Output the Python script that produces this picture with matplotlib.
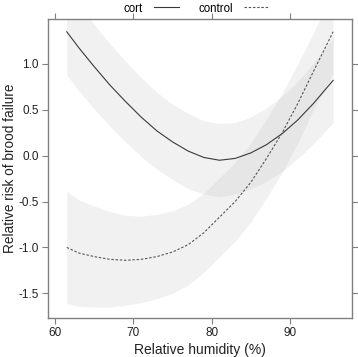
import numpy as np
import matplotlib
matplotlib.use('Agg')
import matplotlib.pyplot as plt

plt.rcParams['font.family'] = ['Liberation Sans', 'DejaVu Sans']

humidity = [61.5, 63, 65, 67, 69, 71, 73, 75, 77, 79, 81, 83, 85, 87, 89, 91, 93, 95.5]

# cort group: fitted risk and confidence band
cort_fit = [1.35, 1.18, 0.97, 0.77, 0.59, 0.42, 0.27, 0.15, 0.05, -0.02, -0.05, -0.03, 0.03, 0.12, 0.24, 0.39, 0.57, 0.82]
cort_upper = [1.82, 1.65, 1.43, 1.22, 1.03, 0.85, 0.69, 0.56, 0.46, 0.38, 0.35, 0.36, 0.42, 0.52, 0.65, 0.81, 1.01, 1.28]
cort_lower = [0.88, 0.71, 0.51, 0.32, 0.15, -0.01, -0.15, -0.26, -0.36, -0.42, -0.45, -0.42, -0.36, -0.28, -0.17, -0.03, 0.13, 0.36]

# control group
control_fit = [-1.00, -1.06, -1.10, -1.13, -1.14, -1.13, -1.10, -1.05, -0.97, -0.84, -0.67, -0.50, -0.29, -0.03, 0.25, 0.57, 0.92, 1.35]
control_upper = [-0.39, -0.48, -0.55, -0.61, -0.65, -0.66, -0.64, -0.60, -0.53, -0.41, -0.24, -0.07, 0.14, 0.40, 0.68, 1.00, 1.34, 1.80]
control_lower = [-1.61, -1.64, -1.65, -1.65, -1.63, -1.60, -1.56, -1.50, -1.41, -1.27, -1.10, -0.93, -0.72, -0.46, -0.18, 0.14, 0.50, 0.90]

xticks = [60, 70, 80, 90]
yticks = [-1.5, -1.0, -0.5, 0.0, 0.5, 1.0]

fig = plt.figure(figsize=(3.58, 3.57), dpi=100)
ax = fig.add_axes([0.134, 0.109, 0.849, 0.838])

band_kw = dict(color='#c8c8c8', alpha=0.25, linewidth=0)
ax.fill_between(humidity, cort_lower, cort_upper, **band_kw)
ax.fill_between(humidity, control_lower, control_upper, **band_kw)

l1, = ax.plot(humidity, cort_fit, color='#3a3a3a', lw=0.8, label='cort')
l2, = ax.plot(humidity, control_fit, color='#555555', lw=0.8, dashes=(2.2, 1.6), label='control')

ax.set_xlim(59.1, 97.9)
ax.set_ylim(-1.77, 1.49)
ax.set_xticks(xticks)
ax.set_yticks(yticks)
ax.set_yticklabels(['%.1f' % v for v in yticks])

for s in ax.spines.values():
    s.set_color('#808080')
    s.set_linewidth(1.0)
ax.tick_params(which='both', direction='out', length=4, width=0.8, color='#808080',
               labelsize=8.5, labelcolor='#222222', top=True, right=True,
               labeltop=False, labelright=False, pad=2.5)
ax.set_xlabel('Relative humidity (%)', fontsize=10, color='#222222', labelpad=3)
ax.set_ylabel('Relative risk of brood failure', fontsize=9.8, color='#222222', labelpad=1)

fig.legend(handles=[l1, l2], loc='upper center', bbox_to_anchor=(0.548, 1.022), ncol=2,
           frameon=False, fontsize=8.3, markerfirst=False, handlelength=2.1,
           columnspacing=1.7, handletextpad=1.0)

fig.savefig('out.png', dpi=100)
